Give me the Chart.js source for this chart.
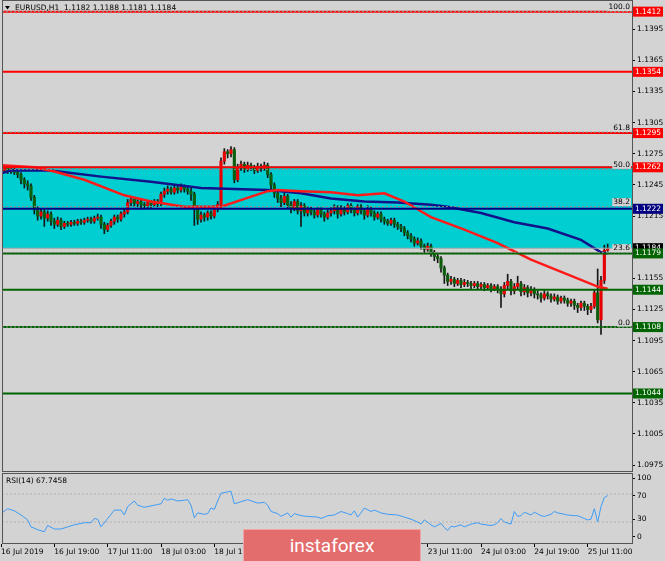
<!DOCTYPE html>
<html>
<head>
<meta charset="utf-8">
<script src="https://cdn.jsdelivr.net/npm/chart.js@4.4.1/dist/chart.umd.min.js"></script>
<style>
  html, body { margin: 0; padding: 0; background: #d3d3d3; }
  body { width: 665px; height: 561px; position: relative; overflow: hidden; }
  canvas { position: absolute; left: 0; }
  #priceChart { top: 0; }
  #rsiChart { top: 471px; }
  #banner {
    position: absolute; left: 243px; top: 529px; width: 176px; height: 31px;
    background: #e36c6c; border: 1px solid #f0a4a4; border-bottom: none;
    color: #fff; font: 19px Roboto, sans-serif; text-align: center; line-height: 31px;
  }
</style>
</head>
<body>
<canvas id="priceChart" width="665" height="472"></canvas>
<canvas id="rsiChart" width="665" height="90"></canvas>
<div id="banner">instaforex</div>
<script>
// EURUSD H1, one entry per hourly bar (16 Jul 2019 03:00 -> 25 Jul 2019 17:00)
const opens = [
  1.1262,1.1259,1.1261,1.1258,1.1260,1.1257,1.1255,1.1250,1.1246,1.1244,
  1.1233,1.1221,1.1215,1.1219,1.1213,1.1217,1.1210,1.1207,1.1211,1.1205,
  1.1208,1.1207,1.1209,1.1208,1.1210,1.1209,1.1211,1.1212,1.1210,1.1213,
  1.1214,1.1207,1.1202,1.1206,1.1210,1.1214,1.1212,1.1217,1.1219,1.1228,
  1.1231,1.1227,1.1229,1.1226,1.1225,1.1228,1.1226,1.1229,1.1227,1.1236,
  1.1239,1.1241,1.1238,1.1242,1.1240,1.1243,1.1241,1.1239,1.1236,1.1222,
  1.1212,1.1216,1.1214,1.1218,1.1215,1.1222,1.1226,1.1268,1.1277,1.1275,
  1.1279,1.1250,1.1262,1.1265,1.1260,1.1264,1.1262,1.1259,1.1263,1.1261,
  1.1264,1.1255,1.1245,1.1237,1.1232,1.1228,1.1234,1.1226,1.1222,1.1229,
  1.1220,1.1225,1.1218,1.1222,1.1219,1.1216,1.1221,1.1217,1.1214,1.1218,
  1.1220,1.1223,1.1217,1.1222,1.1219,1.1225,1.1221,1.1218,1.1224,1.1220,
  1.1216,1.1222,1.1218,1.1214,1.1217,1.1212,1.1210,1.1208,1.1211,1.1207,
  1.1205,1.1203,1.1199,1.1196,1.1193,1.1189,1.1191,1.1186,1.1183,1.1186,
  1.1180,1.1176,1.1174,1.1165,1.1158,1.1152,1.1154,1.1150,1.1153,1.1149,
  1.1151,1.1150,1.1148,1.1150,1.1147,1.1149,1.1146,1.1148,1.1145,1.1147,
  1.1144,1.1140,1.1148,1.1152,1.1143,1.1147,1.1150,1.1142,1.1146,1.1141,
  1.1144,1.1140,1.1139,1.1136,1.1140,1.1138,1.1135,1.1137,1.1133,1.1136,
  1.1134,1.1131,1.1133,1.1129,1.1127,1.1131,1.1128,1.1125,1.1128,1.1141,
  1.1115,1.1153,1.1182
];
const highs = [
  1.1264,1.1263,1.1263,1.1262,1.1262,1.1259,1.1257,1.1252,1.1249,1.1246,
  1.1235,1.1224,1.1222,1.1221,1.1220,1.1219,1.1213,1.1214,1.1213,1.1210,
  1.1210,1.1211,1.1211,1.1212,1.1212,1.1213,1.1214,1.1214,1.1215,1.1217,
  1.1216,1.1209,1.1208,1.1212,1.1216,1.1216,1.1219,1.1222,1.1231,1.1234,
  1.1233,1.1231,1.1231,1.1228,1.1230,1.1230,1.1231,1.1231,1.1238,1.1242,
  1.1244,1.1243,1.1245,1.1244,1.1246,1.1245,1.1243,1.1242,1.1238,1.1225,
  1.1219,1.1218,1.1220,1.1220,1.1225,1.1229,1.1271,1.1280,1.1279,1.1282,
  1.1281,1.1265,1.1268,1.1267,1.1267,1.1266,1.1264,1.1266,1.1265,1.1267,
  1.1266,1.1257,1.1247,1.1239,1.1235,1.1237,1.1236,1.1229,1.1231,1.1231,
  1.1228,1.1227,1.1224,1.1224,1.1221,1.1223,1.1223,1.1219,1.1221,1.1223,
  1.1226,1.1225,1.1225,1.1224,1.1227,1.1227,1.1223,1.1226,1.1226,1.1222,
  1.1225,1.1224,1.1220,1.1219,1.1219,1.1214,1.1212,1.1213,1.1213,1.1209,
  1.1207,1.1205,1.1201,1.1198,1.1195,1.1194,1.1193,1.1188,1.1189,1.1188,
  1.1182,1.1178,1.1176,1.1167,1.1160,1.1157,1.1156,1.1155,1.1155,1.1154,
  1.1153,1.1152,1.1152,1.1152,1.1151,1.1151,1.1150,1.1150,1.1149,1.1149,
  1.1147,1.1151,1.1159,1.1154,1.1150,1.1157,1.1152,1.1149,1.1148,1.1147,
  1.1146,1.1143,1.1141,1.1143,1.1142,1.1140,1.1140,1.1139,1.1138,1.1138,
  1.1136,1.1135,1.1135,1.1131,1.1133,1.1133,1.1130,1.1131,1.1144,1.1164,
  1.1157,1.1187,1.1188
];
const lows = [
  1.1257,1.1257,1.1256,1.1256,1.1255,1.1252,1.1246,1.1242,1.1240,1.1230,
  1.1217,1.1211,1.1212,1.1205,1.1210,1.1206,1.1203,1.1205,1.1202,1.1203,
  1.1205,1.1205,1.1206,1.1206,1.1207,1.1207,1.1209,1.1208,1.1208,1.1211,
  1.1203,1.1198,1.1200,1.1204,1.1207,1.1209,1.1210,1.1214,1.1217,1.1225,
  1.1224,1.1224,1.1222,1.1222,1.1223,1.1223,1.1224,1.1224,1.1225,1.1233,
  1.1236,1.1236,1.1236,1.1237,1.1238,1.1238,1.1236,1.1230,1.1206,1.1207,
  1.1209,1.1210,1.1211,1.1212,1.1213,1.1219,1.1224,1.1265,1.1271,1.1272,
  1.1247,1.1248,1.1259,1.1257,1.1258,1.1259,1.1256,1.1257,1.1258,1.1259,
  1.1252,1.1241,1.1233,1.1228,1.1224,1.1226,1.1222,1.1218,1.1220,1.1217,
  1.1205,1.1215,1.1215,1.1216,1.1213,1.1214,1.1214,1.1210,1.1212,1.1215,
  1.1217,1.1213,1.1215,1.1216,1.1217,1.1218,1.1215,1.1216,1.1217,1.1212,
  1.1214,1.1215,1.1211,1.1212,1.1209,1.1207,1.1206,1.1206,1.1204,1.1202,
  1.1200,1.1196,1.1193,1.1190,1.1186,1.1187,1.1183,1.1180,1.1181,1.1176,
  1.1172,1.1170,1.1161,1.1150,1.1148,1.1149,1.1147,1.1148,1.1146,1.1147,
  1.1147,1.1145,1.1146,1.1144,1.1145,1.1143,1.1144,1.1142,1.1143,1.1141,
  1.1127,1.1137,1.1145,1.1139,1.1140,1.1144,1.1138,1.1139,1.1137,1.1138,
  1.1136,1.1135,1.1132,1.1134,1.1135,1.1132,1.1133,1.1130,1.1131,1.1131,
  1.1128,1.1128,1.1125,1.1122,1.1124,1.1124,1.1120,1.1122,1.1126,1.1112,
  1.1101,1.1150,1.1181
];
const closes = [
  1.1259,1.1261,1.1258,1.1260,1.1257,1.1255,1.1250,1.1246,1.1244,1.1233,
  1.1221,1.1215,1.1219,1.1213,1.1217,1.1210,1.1207,1.1211,1.1205,1.1208,
  1.1207,1.1209,1.1208,1.1210,1.1209,1.1211,1.1212,1.1210,1.1213,1.1214,
  1.1207,1.1202,1.1206,1.1210,1.1214,1.1212,1.1217,1.1219,1.1228,1.1231,
  1.1227,1.1229,1.1226,1.1225,1.1228,1.1226,1.1229,1.1227,1.1236,1.1239,
  1.1241,1.1238,1.1242,1.1240,1.1243,1.1241,1.1239,1.1236,1.1222,1.1212,
  1.1216,1.1214,1.1218,1.1215,1.1222,1.1226,1.1268,1.1277,1.1275,1.1279,
  1.1250,1.1262,1.1265,1.1260,1.1264,1.1262,1.1259,1.1263,1.1261,1.1264,
  1.1255,1.1245,1.1237,1.1232,1.1228,1.1234,1.1226,1.1222,1.1229,1.1220,
  1.1225,1.1218,1.1222,1.1219,1.1216,1.1221,1.1217,1.1214,1.1218,1.1220,
  1.1223,1.1217,1.1222,1.1219,1.1225,1.1221,1.1218,1.1224,1.1220,1.1216,
  1.1222,1.1218,1.1214,1.1217,1.1212,1.1210,1.1208,1.1211,1.1207,1.1205,
  1.1203,1.1199,1.1196,1.1193,1.1189,1.1191,1.1186,1.1183,1.1186,1.1180,
  1.1176,1.1174,1.1165,1.1158,1.1152,1.1154,1.1150,1.1153,1.1149,1.1151,
  1.1150,1.1148,1.1150,1.1147,1.1149,1.1146,1.1148,1.1145,1.1147,1.1144,
  1.1140,1.1148,1.1152,1.1143,1.1147,1.1150,1.1142,1.1146,1.1141,1.1144,
  1.1140,1.1139,1.1136,1.1140,1.1138,1.1135,1.1137,1.1133,1.1136,1.1134,
  1.1131,1.1133,1.1129,1.1127,1.1131,1.1128,1.1125,1.1128,1.1141,1.1115,
  1.1153,1.1182,1.1184
];

// moving averages, read at sample bars
const maRedBars = [0,10,16,25,37,45,55,66,80,83,90,99,107,115,121,129,139,149,159,169,179,182];
const maRedValues = [1.1264,1.1262,1.1258,1.1250,1.1235,1.1229,1.1224,1.1224,1.1239,1.1240,1.1239,
  1.1238,1.1235,1.1237,1.1229,1.1214,1.1202,1.1189,1.1173,1.1160,1.1147,1.1145];
const maBlueBars = [0,3,15,30,45,60,70,80,90,99,109,119,129,134,144,154,164,174,180,182];
const maBlueValues = [1.1256,1.1259,1.1259,1.1253,1.1248,1.1242,1.1241,1.1240,1.1237,1.1232,
  1.1229,1.1228,1.1226,1.1224,1.1218,1.1209,1.1203,1.1192,1.1180,1.1179];

// RSI(14)
const rsiBars = [0,2,4,6,8,9,11,13,14,16,18,20,22,25,27,28,29,30,32,34,36,37,38,40,41,43,45,47,48,49,
  50,51,53,55,56,57,58,59,61,62,63,64,65,66,68,69,70,72,74,77,79,80,81,83,84,86,87,88,90,92,
  95,96,98,100,102,104,105,106,107,108,109,111,112,114,116,119,121,123,125,126,127,129,130,132,133,134,135,136,138,139,
  141,143,144,147,148,149,150,151,153,154,155,156,157,159,160,162,163,165,166,167,169,170,172,173,175,176,177,178,179,180,
  181,182];
const rsiValues = [42,49,46,40,33,23,19,16,25,20,20,23,26,29,29,35,34,23,35,47,47,40,52,60,54,51,53,55,56,64,
  61,63,60,61,62,54,36,43,41,42,50,48,60,71,73,74,56,59,62,57,58,54,45,42,38,43,37,42,39,38,
  37,35,39,40,45,42,40,46,37,43,50,45,47,43,41,40,37,34,30,27,33,26,23,28,22,18,24,23,26,23,
  27,29,27,25,26,29,35,30,27,45,38,39,44,40,44,39,38,41,45,43,41,40,39,39,35,33,34,49,30,52,
  65,67.7458];

// horizontal levels
const levelPrices = [1.1412, 1.1354, 1.1295, 1.1262, 1.1222, 1.1179, 1.1144, 1.1108, 1.1044];
const levelColors = ["#ff0000","#ff0000","#ff0000","#ff0000","#000080","#006400","#006400","#006400","#006400"];
const bidPrice = 1.1184;
const zoneTop = 1.1263;
const zoneBottom = 1.1184;
const fibLow = 1.1108;
const fibHigh = 1.1412;
const fibRatios = [0, 0.236, 0.382, 0.5, 0.618, 1];
const fibLabels = ["0.0", "23.6", "38.2", "50.0", "61.8", "100.0"];

const priceTicks = [1.0975,1.1005,1.1035,1.1065,1.1095,1.1125,1.1155,1.1185,1.1215,1.1245,1.1275,1.1305,1.1335,1.1365,1.1395];
const rsiTicks = [100, 70, 30, 0];
const rsiLevels = [70, 30];
const timeTickBars = [0,16,32,48,64,80,96,112,128,144,160,176];
const timeTickLabels = ["16 Jul 2019","16 Jul 19:00","17 Jul 11:00","18 Jul 03:00","18 Jul 19:00","19 Jul 11:00",
  "22 Jul 03:00","22 Jul 19:00","23 Jul 11:00","24 Jul 03:00","24 Jul 19:00","25 Jul 11:00"];

const X_MIN = 0.3, X_MAX = 189.3;
const FONT = '"DejaVu Sans", sans-serif';
const tickFont = { family: FONT, size: 7.5 };

function hline(price, color, width, dash, order) {
  return {
    type: "line",
    data: [{ x: X_MIN, y: price }, { x: X_MAX, y: price }],
    borderColor: color, borderWidth: width, borderDash: dash || [],
    pointRadius: 0, order: order
  };
}

const bodyColors = opens.map((o, i) => (closes[i] >= o ? "#e60000" : "#0b5e0b"));

const datasets = [
  {
    type: "line",
    data: [{ x: X_MIN, y: zoneTop }, { x: X_MAX, y: zoneTop }],
    borderWidth: 0, pointRadius: 0,
    fill: { value: zoneBottom }, backgroundColor: "#00ced1", order: 50
  },
  {
    type: "bar",
    data: highs.map((h, i) => ({ x: i, y: [lows[i], h] })),
    backgroundColor: "#151515", barThickness: 1, grouped: false, order: 40
  },
  {
    type: "bar",
    data: opens.map((o, i) => ({ x: i, y: [o, closes[i]] })),
    backgroundColor: bodyColors, barThickness: 2.5, minBarLength: 1, grouped: false, order: 39
  },
  {
    type: "line",
    data: maBlueBars.map((b, i) => ({ x: b, y: maBlueValues[i] })),
    borderColor: "#12128a", borderWidth: 2.5, pointRadius: 0, order: 31
  },
  {
    type: "line",
    data: maRedBars.map((b, i) => ({ x: b, y: maRedValues[i] })),
    borderColor: "#ff1a1a", borderWidth: 2.5, pointRadius: 0, order: 30
  },
  hline(bidPrice, "#a8a8a8", 1, null, 25)
];
levelPrices.forEach((p, k) => datasets.push(hline(p, levelColors[k], 2, null, 20)));
fibRatios.forEach((r) => datasets.push(hline(fibLow + r * (fibHigh - fibLow), "#8c8c8c", 1, [2, 2], 10)));

const priceDecor = {
  id: "priceDecor",
  afterDraw(chart) {
    const ctx = chart.ctx;
    const a = chart.chartArea;
    const y = chart.scales.y;
    ctx.save();
    ctx.strokeStyle = "#555";
    ctx.lineWidth = 1;
    ctx.strokeRect(a.left + 0.5, 0.5, a.right - a.left, a.bottom);

    ctx.font = "7.5px " + FONT;
    ctx.textBaseline = "middle";

    // fibonacci labels
    ctx.textAlign = "right";
    fibRatios.forEach((r, k) => {
      const py = y.getPixelForValue(fibLow + r * (fibHigh - fibLow)) - 4.5;
      const w = ctx.measureText(fibLabels[k]).width;
      ctx.fillStyle = "#d3d3d3";
      ctx.fillRect(a.right - 3 - w, py - 4, w + 2, 8);
      ctx.fillStyle = "#000";
      ctx.fillText(fibLabels[k], a.right - 2, py);
    });

    // price tags on the axis
    ctx.textAlign = "center";
    const tag = (price, color) => {
      const py = y.getPixelForValue(price);
      ctx.fillStyle = color;
      ctx.fillRect(a.right + 1, py - 5, 30, 10);
      ctx.fillStyle = "#fff";
      ctx.fillText(price.toFixed(4), a.right + 16, py);
    };
    tag(bidPrice, "#000");
    levelPrices.forEach((p, k) => tag(p, levelColors[k]));

    // header
    const last = closes.length - 1;
    ctx.fillStyle = "#000";
    ctx.beginPath();
    ctx.moveTo(5, 6); ctx.lineTo(10, 6); ctx.lineTo(7.5, 9.5); ctx.closePath();
    ctx.fill();
    ctx.textAlign = "left";
    ctx.fillText("EURUSD,H1  " + [opens[last], highs[last], lows[last], closes[last]].map(v => v.toFixed(4)).join(" "), 15, 8);
    ctx.restore();
  }
};

new Chart(document.getElementById("priceChart"), {
  type: "bar",
  data: { datasets: datasets },
  options: {
    responsive: false, animation: false, devicePixelRatio: 1,
    layout: { padding: { left: 2, top: 2, right: 0, bottom: 1 } },
    plugins: { legend: { display: false }, tooltip: { enabled: false } },
    scales: {
      x: { type: "linear", min: X_MIN, max: X_MAX, offset: false, display: false },
      y: {
        type: "linear", position: "right", min: 1.09693, max: 1.14213,
        afterBuildTicks: (s) => { s.ticks = priceTicks.map((v) => ({ value: v })); },
        afterFit: (s) => { s.width = 33; s.paddingTop = 0; s.paddingBottom = 0; },
        ticks: { callback: (v) => Number(v).toFixed(4), font: tickFont, color: "#000", padding: 2 },
        grid: { drawOnChartArea: false, tickLength: 3, color: "#000" },
        border: { color: "#404040" }
      }
    }
  },
  plugins: [priceDecor]
});

const rsiDecor = {
  id: "rsiDecor",
  afterDraw(chart) {
    const ctx = chart.ctx;
    const a = chart.chartArea;
    ctx.save();
    ctx.strokeStyle = "#555";
    ctx.lineWidth = 1;
    ctx.strokeRect(a.left + 0.5, a.top + 0.5, a.right - a.left, a.bottom - a.top);
    ctx.font = "7.5px " + FONT;
    ctx.fillStyle = "#000";
    ctx.textBaseline = "middle";
    ctx.fillText("RSI(14) " + rsiValues[rsiValues.length - 1].toFixed(4), 6, a.top + 8);
    ctx.restore();
  }
};

const rsiSets = rsiLevels.map((v) => ({
  data: [{ x: X_MIN, y: v }, { x: X_MAX, y: v }],
  borderColor: "#b4b4b4", borderWidth: 1, borderDash: [2, 2], pointRadius: 0, order: 5
}));
rsiSets.push({
  data: rsiBars.map((b, i) => ({ x: b, y: rsiValues[i] })),
  borderColor: "#3d9cf5", borderWidth: 1, pointRadius: 0, order: 1
});

new Chart(document.getElementById("rsiChart"), {
  type: "line",
  data: { datasets: rsiSets },
  options: {
    responsive: false, animation: false, devicePixelRatio: 1,
    layout: { padding: { left: 2, top: 2, right: 0, bottom: 0 } },
    plugins: { legend: { display: false }, tooltip: { enabled: false } },
    scales: {
      x: {
        type: "linear", min: X_MIN, max: X_MAX, offset: false, position: "bottom",
        afterBuildTicks: (s) => { s.ticks = timeTickBars.map((v) => ({ value: v })); },
        afterFit: (s) => { s.height = 18; s.paddingLeft = 0; s.paddingRight = 0; },
        ticks: {
          autoSkip: false, maxRotation: 0, align: "start", padding: 1,
          font: tickFont, color: "#000",
          callback: (v, i) => timeTickLabels[i]
        },
        grid: { drawOnChartArea: false, tickLength: 4, color: "#000" },
        border: { color: "#404040" }
      },
      y: { type: "linear", display: false, min: 0, max: 100 },
      yr: {
        type: "linear", position: "right", min: -10.2, max: 108.5,
        afterBuildTicks: (s) => { s.ticks = rsiTicks.map((v) => ({ value: v })); },
        afterFit: (s) => { s.width = 33; s.paddingTop = 0; s.paddingBottom = 0; },
        ticks: { font: tickFont, color: "#000", padding: 2 },
        grid: { drawOnChartArea: false, tickLength: 3, color: "#000" },
        border: { color: "#404040" }
      }
    }
  },
  plugins: [rsiDecor]
});
</script>
</body>
</html>
